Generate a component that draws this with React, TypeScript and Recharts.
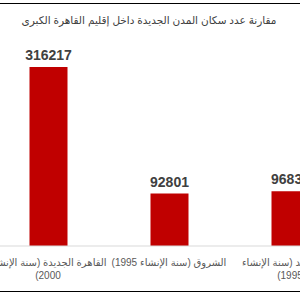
import { Bar, BarChart, LabelList, XAxis, YAxis } from 'recharts';

const cities = [
  'القاهرة الجديدة (سنة الإنشاء 2000)',
  'الشروق (سنة الإنشاء 1995)',
  'الشيخ زايد (سنة الإنشاء 1995)',
];
const population = [316217, 92801, 96835];
const title = 'مقارنة عدد سكان المدن الجديدة داخل إقليم القاهرة الكبرى';

const data = cities.map((name, i) => ({ name, value: population[i] }));

const FONT = '"Liberation Sans", "DejaVu Sans", sans-serif';
const TICK_SIZE = 10;
const WRAP = 122;

let ctx: CanvasRenderingContext2D | null = null;
function measure(s: string) {
  if (!ctx) {
    ctx = document.createElement('canvas').getContext('2d');
  }
  if (!ctx) return s.length * 5;
  ctx.font = `${TICK_SIZE}px ${FONT}`;
  return ctx.measureText(s).width;
}

function wrap(label: string) {
  const lines: string[] = [];
  let cur = '';
  for (const w of label.split(' ')) {
    const next = cur ? cur + ' ' + w : w;
    if (cur && measure(next) > WRAP) {
      lines.push(cur);
      cur = w;
    } else {
      cur = next;
    }
  }
  if (cur) lines.push(cur);
  return lines;
}

function CityTick({ x, y, payload }: any) {
  const lines = wrap(payload.value);
  return (
    <text
      x={x}
      y={y + 5}
      textAnchor="middle"
      fill="#595959"
      fontSize={TICK_SIZE}
      fontFamily={FONT}
      style={{ direction: 'rtl' }}
    >
      {lines.map((l, i) => (
        <tspan key={i} x={x} dy={i === 0 ? '0.71em' : 13}>
          {l}
        </tspan>
      ))}
    </text>
  );
}

export default function App() {
  return (
    <div
      style={{
        position: 'fixed',
        left: 0,
        top: 0,
        width: 300,
        height: 297,
        overflow: 'hidden',
        background: '#fff',
      }}
    >
      <div
        style={{
          position: 'absolute',
          left: -30,
          top: 3,
          width: 400,
          height: 287,
          borderTop: '1px solid #000',
          borderBottom: '1px solid #000',
        }}
      >
        <BarChart
          width={400}
          height={287}
          data={data}
          margin={{ top: 44, right: 19.5, bottom: 0, left: 17.5 }}
        >
          <text
            x={179}
            y={16}
            textAnchor="middle"
            dominantBaseline="central"
            fontSize={10.5}
            fill="#404040"
            fontFamily={FONT}
            style={{ direction: 'rtl' }}
          >
            {title}
          </text>
          <XAxis
            dataKey="name"
            height={45}
            axisLine={{ stroke: '#d9d9d9' }}
            tickLine={false}
            interval={0}
            tick={<CityTick />}
          />
          <YAxis hide domain={[0, 350000]} />
          <Bar dataKey="value" fill="#c00000" barSize={38} isAnimationActive={false}>
            <LabelList
              dataKey="value"
              position="top"
              offset={7}
              fill="#404040"
              fontSize={14}
              fontWeight="bold"
              fontFamily={FONT}
            />
          </Bar>
        </BarChart>
      </div>
    </div>
  );
}
